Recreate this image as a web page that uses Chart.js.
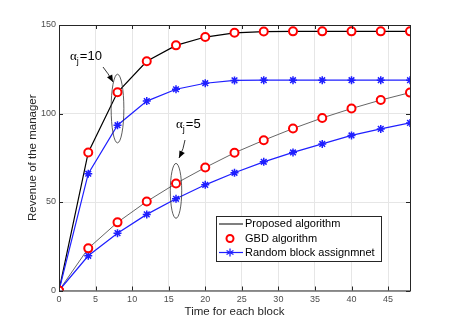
<!DOCTYPE html>
<html>
<head>
<meta charset="utf-8">
<script src="https://cdn.jsdelivr.net/npm/chart.js@4"></script>
<style>
  html, body { margin: 0; padding: 0; background: #fff; }
  #wrap { width: 454px; height: 327px; position: relative; }
</style>
</head>
<body>
<div id="wrap"><canvas id="c"></canvas></div>
<script>
// ─── DATA ──────────────────────────────────────────────
const times = [0, 4, 8, 12, 16, 20, 24, 28, 32, 36, 40, 44, 48];
const xTicks = [0, 5, 10, 15, 20, 25, 30, 35, 40, 45];
const yTicks = [0, 50, 100, 150];

// alpha_j = 10
const proposed10 = [0, 78, 112, 129.5, 138.5, 143.2, 145.6, 146.3, 146.4, 146.4, 146.4, 146.4, 146.4];
const gbd10      = [0, 78, 112, 129.5, 138.5, 143.2, 145.6, 146.3, 146.4, 146.4, 146.4, 146.4, 146.4];
const random10   = [0, 66, 93.4, 107, 113.7, 117.1, 118.7, 118.8, 118.8, 118.8, 118.8, 118.8, 118.8];

// alpha_j = 5
const proposed5 = [0, 23.8, 38.5, 50.3, 60.5, 69.5, 77.8, 84.9, 91.5, 97.5, 102.8, 107.6, 111.8];
const gbd5      = [0, 23.8, 38.5, 50.3, 60.5, 69.5, 77.8, 84.9, 91.5, 97.5, 102.8, 107.6, 111.8];
const random5   = [0, 19.6, 32.4, 43, 51.8, 59.7, 66.5, 72.7, 78, 82.8, 87.6, 91.3, 94.7];

const toPts = (arr) => arr.map((v, i) => ({ x: times[i], y: v }));

// ─── ANNOTATIONS (box, inward ticks, ellipses, arrows) ──
const annotate = {
    id: 'annotate',
    afterDatasetsDraw(chart) {
        const { ctx, chartArea: a, scales: { x, y } } = chart;
        ctx.save();

        // axes box + inward ticks
        ctx.strokeStyle = '#262626';
        ctx.lineWidth = 1;
        ctx.strokeRect(a.left + 0.5, a.top + 0.5, a.right - a.left, a.bottom - a.top);
        ctx.beginPath();
        xTicks.forEach(t => {
            const px = Math.round(x.getPixelForValue(t)) + 0.5;
            ctx.moveTo(px, a.bottom); ctx.lineTo(px, a.bottom - 4);
            ctx.moveTo(px, a.top);    ctx.lineTo(px, a.top + 4);
        });
        yTicks.forEach(t => {
            const py = Math.round(y.getPixelForValue(t)) + 0.5;
            ctx.moveTo(a.left, py);  ctx.lineTo(a.left + 4, py);
            ctx.moveTo(a.right, py); ctx.lineTo(a.right - 4, py);
        });
        ctx.stroke();

        // ellipses
        ctx.strokeStyle = '#333';
        ctx.lineWidth = 0.8;
        const ell = (cx, cy, rx, ry) => {
            ctx.beginPath();
            ctx.ellipse(x.getPixelForValue(cx), y.getPixelForValue(cy),
                Math.abs(x.getPixelForValue(cx + rx) - x.getPixelForValue(cx)),
                Math.abs(y.getPixelForValue(cy + ry) - y.getPixelForValue(cy)), 0, 0, Math.PI * 2);
            ctx.stroke();
        };
        ell(8, 102.8, 0.87, 19.4);
        ell(16, 56.3, 0.78, 15.5);

        // arrows
        const arrow = (x0, y0, cx, cy, x1, y1) => {
            ctx.strokeStyle = '#000';
            ctx.fillStyle = '#000';
            ctx.lineWidth = 0.8;
            ctx.beginPath();
            ctx.moveTo(x0, y0);
            ctx.quadraticCurveTo(cx, cy, x1, y1);
            ctx.stroke();
            const ang = Math.atan2(y1 - cy, x1 - cx);
            const L = 7, W = 3;
            ctx.beginPath();
            ctx.moveTo(x1, y1);
            ctx.lineTo(x1 - L * Math.cos(ang) + W * Math.sin(ang), y1 - L * Math.sin(ang) - W * Math.cos(ang));
            ctx.lineTo(x1 - L * Math.cos(ang) - W * Math.sin(ang), y1 - L * Math.sin(ang) + W * Math.cos(ang));
            ctx.closePath();
            ctx.fill();
        };
        arrow(103, 67, 108, 73, 113, 82);
        arrow(185, 140, 184, 148, 179, 158);

        // alpha labels
        const alphaLabel = (px, py, val) => {
            ctx.fillStyle = '#000';
            ctx.textBaseline = 'alphabetic';
            ctx.font = '13px "Liberation Serif", serif';
            ctx.fillText('\u03b1', px, py);
            const w = ctx.measureText('\u03b1').width;
            ctx.font = '9px "Liberation Sans", Arial, sans-serif';
            ctx.fillText('j', px + w, py + 4);
            ctx.font = '13px "Liberation Sans", Arial, sans-serif';
            ctx.fillText('=' + val, px + w + 3, py);
        };
        alphaLabel(70, 60, '10');
        alphaLabel(176, 128, '5');

        ctx.restore();
    }
};

// ─── CHART ─────────────────────────────────────────────
const ctx = document.getElementById('c').getContext('2d');
const base = { showLine: true, tension: 0, pointHoverRadius: 0 };

new Chart(ctx, {
    type: 'scatter',
    data: {
        datasets: [
            { ...base, label: 'Proposed algorithm', data: toPts(proposed10), borderColor: '#000', borderWidth: 1.2, pointRadius: 0, order: 3 },
            { ...base, label: 'Proposed5', data: toPts(proposed5), borderColor: '#555', borderWidth: 0.9, pointRadius: 0, order: 3 },
            { ...base, label: 'Random block assignmnet', data: toPts(random10), borderColor: '#1f1fff', borderWidth: 1.2,
              pointStyle: 'star', pointRadius: 4, pointBorderColor: '#1f1fff', pointBorderWidth: 1.5, order: 2 },
            { ...base, label: 'Random5', data: toPts(random5), borderColor: '#1f1fff', borderWidth: 1.2,
              pointStyle: 'star', pointRadius: 4, pointBorderColor: '#1f1fff', pointBorderWidth: 1.5, order: 2 },
            { ...base, showLine: false, label: 'GBD algorithm', data: toPts(gbd10), borderColor: '#ff0000',
              pointStyle: 'circle', pointRadius: 4, pointBorderWidth: 2, pointBackgroundColor: '#fff', order: 1 },
            { ...base, showLine: false, label: 'GBD5', data: toPts(gbd5), borderColor: '#ff0000',
              pointStyle: 'circle', pointRadius: 4, pointBorderWidth: 2, pointBackgroundColor: '#fff', order: 1 },
        ]
    },
    options: {
        responsive: true,
        maintainAspectRatio: false,
        animation: false,
        layout: { padding: { left: 0, right: 44, top: 25, bottom: 0 } },
        scales: {
            x: {
                type: 'linear', min: 0, max: 48,
                afterBuildTicks: (axis) => { axis.ticks = xTicks.map(v => ({ value: v })); },
                afterFit: (axis) => { axis.height = 36.5; },
                grid: { color: '#e6e6e6', drawTicks: false },
                border: { display: false },
                ticks: { color: '#4d4d4d', font: { size: 9, family: '"Liberation Sans", Arial, sans-serif' }, padding: 4, maxRotation: 0 },
                title: { display: true, text: 'Time for each block', color: '#262626',
                         font: { size: 11.5, family: '"Liberation Sans", Arial, sans-serif' }, padding: { top: 2, bottom: 8 } }
            },
            y: {
                type: 'linear', min: 0, max: 150,
                afterBuildTicks: (axis) => { axis.ticks = yTicks.map(v => ({ value: v })); },
                afterFit: (axis) => { axis.width = 59; },
                grid: { color: '#e6e6e6', drawTicks: false },
                border: { display: false },
                ticks: { color: '#4d4d4d', font: { size: 9, family: '"Liberation Sans", Arial, sans-serif' }, padding: 3 },
                title: { display: true, text: 'Revenue of the manager', color: '#262626',
                         font: { size: 11.5, family: '"Liberation Sans", Arial, sans-serif' }, padding: { top: 26, bottom: 4 } }
            }
        },
        plugins: {
            legend: { display: false },
            tooltip: { enabled: false }
        }
    },
    plugins: [annotate, {
        // MATLAB-style legend box, drawn on top of the plot
        id: 'legendBox',
        afterDraw(chart) {
            const c = chart.ctx;
            const L = 216, T = 216, R = 381, B = 261;
            c.save();
            c.fillStyle = '#fff';
            c.fillRect(L, T, R - L, B - T);
            c.strokeStyle = '#262626';
            c.lineWidth = 1;
            c.strokeRect(L + 0.5, T + 0.5, R - L, B - T);
            const rows = [
                { y: 224, text: 'Proposed algorithm' },
                { y: 238.5, text: 'GBD algorithm' },
                { y: 252.5, text: 'Random block assignmnet' },
            ];
            c.font = '11px "Liberation Sans", Arial, sans-serif';
            c.textBaseline = 'middle';
            c.fillStyle = '#000';
            rows.forEach(r => c.fillText(r.text, 245, r.y));
            // line sample
            c.strokeStyle = '#555'; c.lineWidth = 1.5;
            c.beginPath(); c.moveTo(219, 224); c.lineTo(243, 224); c.stroke();
            // circle sample
            c.strokeStyle = '#ff0000'; c.lineWidth = 2;
            c.beginPath(); c.arc(230, 238.5, 3.5, 0, Math.PI * 2); c.stroke();
            // random sample
            c.strokeStyle = '#1f1fff'; c.lineWidth = 1.2;
            c.beginPath(); c.moveTo(219, 252.5); c.lineTo(243, 252.5); c.stroke();
            c.lineWidth = 1.3;
            for (let k = 0; k < 3; k++) {
                const ang = k * Math.PI / 3 + Math.PI / 2;
                c.beginPath();
                c.moveTo(230 + 4 * Math.cos(ang), 252.5 + 4 * Math.sin(ang));
                c.lineTo(230 - 4 * Math.cos(ang), 252.5 - 4 * Math.sin(ang));
                c.stroke();
            }
            c.restore();
        }
    }]
});
</script>
</body>
</html>
